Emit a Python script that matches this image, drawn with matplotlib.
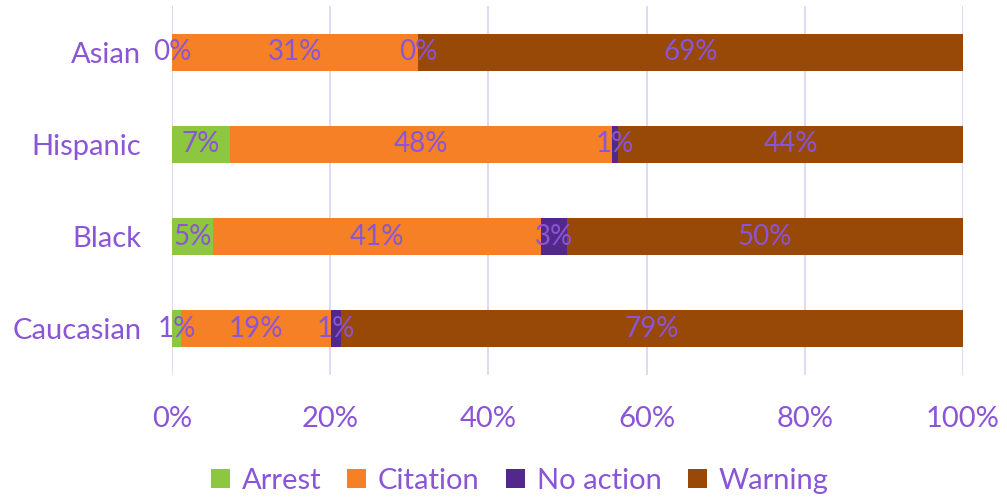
import matplotlib
matplotlib.use("Agg")
import matplotlib.pyplot as plt
import numpy as np

plt.rcParams['font.family'] = ['Lato', 'DejaVu Sans']

groups = ["Caucasian", "Black", "Hispanic", "Asian"]
series = ["Arrest", "Citation", "No action", "Warning"]
arrest = [1.2, 5.2, 7.3, 0.0]
citation = [18.9, 41.4, 48.3, 31.1]
no_action = [1.3, 3.3, 0.8, 0.0]
warning = [78.6, 50.1, 43.6, 68.9]
labels = [
    ["1%", "5%", "7%", "0%"],
    ["19%", "41%", "48%", "31%"],
    ["1%", "3%", "1%", "0%"],
    ["79%", "50%", "44%", "69%"],
]
colors = ["#8dc63f", "#f58025", "#52288a", "#984807"]
text_color = "#8a55d6"

fig = plt.figure(figsize=(10.07, 4.98), dpi=100)
ax = fig.add_axes([172 / 1007, 1 - 375 / 498, 791 / 1007, 369 / 498])

y = np.arange(len(groups))
left = np.zeros(len(groups))
for name, vals, col, labs in zip(series, [arrest, citation, no_action, warning], colors, labels):
    vals = np.array(vals)
    ax.barh(y, vals, left=left, height=0.4, color=col, label=name, zorder=2)
    for yi, (l, v, t) in enumerate(zip(left, vals, labs)):
        ax.text(l + v / 2, yi, t, ha="center", va="center", fontsize=20,
                color=text_color, zorder=3)
    left += vals

ax.set_xlim(0, 100)
ax.set_ylim(-0.5, 3.5)
ax.set_yticks(y)
ax.set_yticklabels(groups)
ax.set_xticks(np.arange(0, 101, 20))
ax.set_xticklabels([f"{v}%" for v in range(0, 101, 20)])
ax.tick_params(length=0, labelsize=21, labelcolor=text_color)
ax.tick_params(axis="x", pad=22)
ax.tick_params(axis="y", pad=22)
ax.grid(axis="x", color="#ddd5f3", linewidth=1.3, zorder=0)
for s in ax.spines.values():
    s.set_visible(False)

handles, lbls = ax.get_legend_handles_labels()
fig.legend(handles, lbls, loc="center", bbox_to_anchor=(0.516, 1 - 481 / 498), ncol=4,
           frameon=False, fontsize=21, labelcolor=text_color, handlelength=0.65,
           handleheight=0.65, handletextpad=0.4, columnspacing=0.9)

fig.savefig("out.png", dpi=100)
